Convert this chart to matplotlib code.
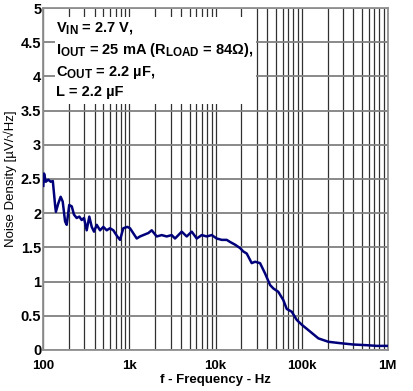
import matplotlib
matplotlib.use("Agg")
import matplotlib.pyplot as plt
import matplotlib._mathtext as mathtext_internal
from matplotlib.patches import Rectangle
from matplotlib.ticker import FixedLocator, LogLocator, NullFormatter

plt.rcParams['font.family'] = ['Liberation Sans', 'DejaVu Sans']
plt.rcParams['mathtext.fontset'] = 'custom'
plt.rcParams['mathtext.rm'] = 'Liberation Sans:bold'
plt.rcParams['mathtext.it'] = 'Liberation Sans:bold'
plt.rcParams['mathtext.bf'] = 'Liberation Sans:bold'
# subscripts in the reference are only slightly smaller than the main text
mathtext_internal.SHRINK_FACTOR = 0.8

# noise density (Hz, uV/sqrt(Hz))
freq = [100, 102, 107, 114, 122, 129, 137, 140, 149, 159, 168, 179, 187, 200,
        214, 227, 244, 262, 279, 297, 319, 342, 365, 388, 417, 456, 498, 545,
        595, 650, 723, 778, 849, 946,
        1016, 1216, 1328, 1450, 1660, 1816, 2075, 2371, 2710, 3097, 3386,
        4049, 4630, 5292, 6050, 6914, 7907, 9036, 10330, 11800,
        12330, 13490, 14730, 16840, 19270, 21040, 23030, 26310, 28770,
        32880, 37580, 42970, 46920, 53620, 61260, 67140, 76740, 87700,
        100200, 125300, 156300, 204200, 279000, 398300, 569800, 745000, 973000]
noise = [2.40, 2.58, 2.46, 2.49, 2.46, 2.47, 2.12, 2.02, 2.14, 2.24, 2.17, 1.88,
         1.83, 2.12, 2.10, 1.98, 1.93, 1.95, 1.90, 1.93, 1.75, 1.95, 1.80, 1.73,
         1.83, 1.75, 1.80, 1.75, 1.78, 1.75, 1.66, 1.61, 1.78, 1.80,
         1.78, 1.63, 1.66, 1.68, 1.71, 1.75, 1.66, 1.68, 1.66, 1.68, 1.63,
         1.73, 1.66, 1.73, 1.63, 1.68, 1.66, 1.68, 1.63, 1.61,
         1.61, 1.61, 1.58, 1.54, 1.49, 1.44, 1.41, 1.27, 1.29,
         1.27, 1.12, 0.95, 0.90, 0.85, 0.73, 0.60, 0.56, 0.44,
         0.37, 0.27, 0.17, 0.12, 0.10, 0.08, 0.07, 0.06, 0.06]

xticks = [100, 1e3, 1e4, 1e5, 1e6]
xlabels = ['100', '1k', '10k', '100k', '1M']
yticks = [0, 0.5, 1, 1.5, 2, 2.5, 3, 3.5, 4, 4.5, 5]
ylabels = ['0', '0.5', '1', '1.5', '2', '2.5', '3', '3.5', '4', '4.5', '5']

notes = [r'$V_{IN}$ = 2.7 V,',
         r'$I_{OUT}$ = 25 mA ($R_{LOAD}$ = 84Ω),',
         r'$C_{OUT}$ = 2.2 µF,',
         'L = 2.2 µF']

fig = plt.figure(figsize=(4.14, 3.91), dpi=100)
ax = fig.add_axes([0.1046, 0.1049, 0.832, 0.8746])

ax.set_xscale('log')
ax.set_xlim(100, 1e6)
ax.set_ylim(0, 5)

ax.xaxis.set_major_locator(FixedLocator(xticks))
ax.set_xticklabels(xlabels)
ax.xaxis.set_minor_locator(LogLocator(base=10, subs=range(2, 10)))
ax.xaxis.set_minor_formatter(NullFormatter())
ax.set_yticks(yticks)
ax.set_yticklabels(ylabels)
ax.tick_params(which='both', length=0)
ax.tick_params(axis='x', pad=7, labelsize=9.5)
ax.tick_params(axis='y', pad=1.5, labelsize=10.5)
for lab in ax.get_xticklabels() + ax.get_yticklabels():
    lab.set_fontweight('bold')

ax.grid(True, axis='y', color='#808080', lw=1.3, zorder=1)
ax.grid(True, axis='x', which='both', color='#303030', lw=0.9, zorder=1)
ax.set_axisbelow(True)
for s in ax.spines.values():
    s.set_color('#909090')
    s.set_linewidth(1.3)

# white box behind the conditions text
ax.add_patch(Rectangle((137, 3.6), 29300 - 137, 1.27, facecolor='white',
                       edgecolor='none', zorder=1.5))

ax.plot(freq, noise, color='#00007a', lw=1.8, zorder=3)

ys = [4.71, 4.39, 4.06, 3.77]
for t, yy in zip(notes, ys):
    ax.text(140, yy, t, fontsize=10.5, fontweight='bold', va='center', ha='left', zorder=4)

ax.set_xlabel('f - Frequency - Hz', fontsize=9.5, fontweight='bold', labelpad=2)
ax.set_ylabel('Noise Density [µV/√Hz]', fontsize=9.5, labelpad=3)

fig.savefig('out.png', dpi=100)
